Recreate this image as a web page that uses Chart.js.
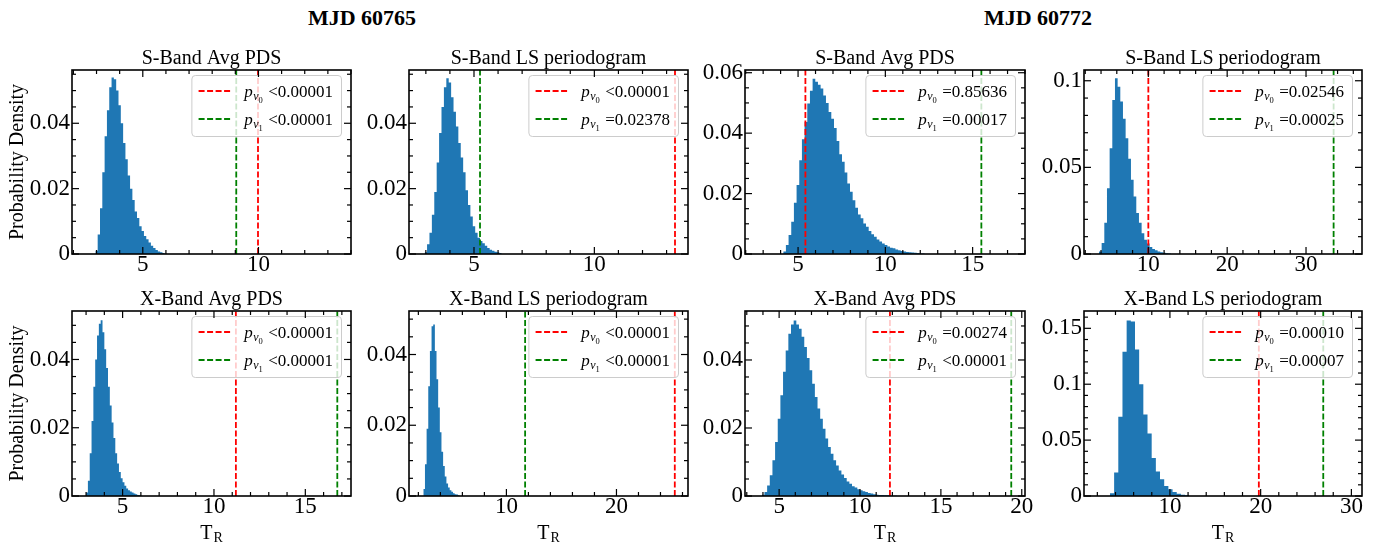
<!DOCTYPE html>
<html>
<head>
<meta charset="utf-8">
<title>T_R distributions</title>
<script src="https://cdn.jsdelivr.net/npm/chart.js@4.4.1/dist/chart.umd.min.js"></script>
<style>
  body { margin: 0; background: #fff; width: 1385px; height: 547px; position: relative; overflow: hidden;
         font-family: "Liberation Serif", "DejaVu Serif", serif; }
  canvas { position: absolute; }
  .suptitle { position: absolute; top: 7px; font-weight: bold; font-size: 22px; line-height: 22px;
              transform: translateX(-50%); white-space: nowrap; color: #000; }
</style>
</head>
<body>
<div class="suptitle" style="left:362px">MJD 60765</div>
<div class="suptitle" style="left:1038px">MJD 60772</div>
<script>
const FONT = '"Liberation Serif", "DejaVu Serif", serif';
Chart.defaults.font.family = FONT;
Chart.defaults.color = '#000';

// panels, row-major: S-band on top, X-band below; columns MJD 60765 (avg, LS), MJD 60772 (avg, LS)
const panelTitles = ['S-Band Avg PDS', 'S-Band LS periodogram', 'S-Band Avg PDS', 'S-Band LS periodogram',
  'X-Band Avg PDS', 'X-Band LS periodogram', 'X-Band Avg PDS', 'X-Band LS periodogram'];

// histogram heights (probability per bin)
const sAvg60765 = [0.001, 0.006, 0.014, 0.025, 0.036, 0.044, 0.051, 0.054, 0.0535, 0.050, 0.0455, 0.040,
  0.034, 0.029, 0.024, 0.020, 0.0165, 0.013, 0.011, 0.0085, 0.007, 0.0055, 0.0045, 0.0035, 0.0025,
  0.0018, 0.0012, 0.0008, 0.0005, 0.0003];
const sLs60765 = [0.0005, 0.003, 0.0065, 0.012, 0.019, 0.028, 0.037, 0.045, 0.051, 0.0538, 0.0525, 0.048,
  0.0435, 0.039, 0.034, 0.0295, 0.025, 0.0195, 0.015, 0.0115, 0.0085, 0.0065, 0.005, 0.004, 0.0033,
  0.0025, 0.0018, 0.0013, 0.001, 0.0007, 0.0005, 0.0003];
const sAvg60772 = [0.0008, 0.003, 0.0063, 0.0107, 0.017, 0.0228, 0.031, 0.038, 0.0437, 0.0498, 0.054, 0.058,
  0.057, 0.056, 0.0548, 0.0525, 0.050, 0.047, 0.0448, 0.0417, 0.0374, 0.033, 0.0305, 0.027, 0.0233,
  0.0206, 0.0178, 0.0153, 0.0131, 0.0118, 0.0101, 0.009, 0.0076, 0.0065, 0.0057, 0.0048, 0.0041,
  0.0035, 0.003, 0.0025, 0.0021, 0.0019, 0.0015, 0.0012, 0.001, 0.0008, 0.0007, 0.0006, 0.0005,
  0.0004, 0.0003, 0.0002, 0.0002];
const sLs60772 = [0.0015, 0.0063, 0.018, 0.038, 0.061, 0.0889, 0.1014, 0.0966, 0.088, 0.078, 0.0668, 0.055,
  0.0428, 0.0332, 0.0236, 0.018, 0.012, 0.0082, 0.006, 0.004, 0.0029, 0.0021, 0.0015, 0.001, 0.0007,
  0.0005, 0.0003];
const xAvg60765 = [0.001, 0.0045, 0.0125, 0.022, 0.032, 0.040, 0.047, 0.0505, 0.0515, 0.048, 0.043, 0.0375,
  0.032, 0.0265, 0.0215, 0.017, 0.0125, 0.0095, 0.007, 0.0052, 0.004, 0.003, 0.0022, 0.0017, 0.0013,
  0.001, 0.0007, 0.0005, 0.0003, 0.0002];
const xLs60765 = [0.002, 0.009, 0.019, 0.031, 0.041, 0.048, 0.0485, 0.041, 0.033, 0.025, 0.018, 0.0125,
  0.0085, 0.0055, 0.0035, 0.0024, 0.0016, 0.0012, 0.0008, 0.0005, 0.0004, 0.0002];
const xAvg60772 = [0.0004, 0.0012, 0.0031, 0.0061, 0.0105, 0.0159, 0.0227, 0.0296, 0.0365, 0.0428, 0.0477,
  0.0504, 0.0516, 0.0504, 0.0492, 0.0468, 0.0438, 0.0406, 0.037, 0.033, 0.0291, 0.0257, 0.0227, 0.0198,
  0.0169, 0.0144, 0.0124, 0.0105, 0.009, 0.0075, 0.0063, 0.0053, 0.0043, 0.0036, 0.0029, 0.0025, 0.002,
  0.0017, 0.0014, 0.0012, 0.0009, 0.0007, 0.0005, 0.0004, 0.0003, 0.0003, 0.0002, 0.0002, 0.0001,
  0.0001, 0.0001];
const xLs60772 = [0.0024, 0.021, 0.071, 0.129, 0.157, 0.156, 0.131, 0.1, 0.073, 0.056, 0.034, 0.022, 0.015,
  0.009, 0.006, 0.0036, 0.002, 0.0012, 0.0007];

const histograms = [sAvg60765, sLs60765, sAvg60772, sLs60772, xAvg60765, xLs60765, xAvg60772, xLs60772];
const binStart = [2.95, 2.95, 4.15, 3.74, 3.0, 2.45, 3.93, 3.39];
const binWidth = [0.1, 0.1, 0.153, 0.338, 0.1, 0.15, 0.164, 0.46];

// observed T_R for the two frequencies and their p-values
const nu0Lines = [9.98, 13.35, 5.42, 10.0, 11.2, 25.3, 11.85, 19.8];
const nu1Lines = [9.04, 5.25, 15.5, 33.5, 16.75, 11.7, 19.35, 26.9];
const nu0Labels = ['<0.00001', '<0.00001', '=0.85636', '=0.02546', '<0.00001', '<0.00001', '=0.00274', '=0.00010'];
const nu1Labels = ['<0.00001', '=0.02378', '=0.00017', '=0.00025', '<0.00001', '<0.00001', '<0.00001', '=0.00007'];

// axes
const xMin = [1.94, 2.30, 1.96, 1.84, 2.23, 1.15, 2.89, 0.53];
const xMax = [14.0, 13.89, 18.0, 37.1, 17.5, 26.5, 20.2, 31.17];
const yMax = [0.0563, 0.0563, 0.0609, 0.1062, 0.0542, 0.0523, 0.0544, 0.1655];
const xTicks = [[5, 10], [5, 10], [5, 10, 15], [10, 20, 30], [5, 10, 15], [10, 20], [5, 10, 15, 20], [10, 20, 30]];
const yTicks = [[0, 0.02, 0.04], [0, 0.02, 0.04], [0, 0.02, 0.04, 0.06], [0, 0.05, 0.1],
  [0, 0.02, 0.04], [0, 0.02, 0.04], [0, 0.02, 0.04], [0, 0.05, 0.1, 0.15]];
const xMinorStep = [1, 1, 1, 2, 1, 2, 1, 2];
const yMinorStep = [0.005, 0.005, 0.005, 0.01, 0.005, 0.005, 0.005, 0.01];

// page layout (pixels)
const plotLefts = [72, 409, 745, 1084];
const plotWidths = [279, 279, 280, 278];
const rowTops = [70, 311];
const rowHeights = [184, 185];
const Y_AXIS_W = 72;
const PAD_TOP = 40;
const PAD_RIGHT = 16;
const LEG_FS = 17;

function line(ctx, x1, y1, x2, y2) {
  ctx.beginPath();
  ctx.moveTo(x1, y1);
  ctx.lineTo(x2, y2);
  ctx.stroke();
}

// p_{nu_k} label with nested subscripts, followed by the value text
function pLabel(ctx, x, y, sub, value, draw) {
  ctx.font = `italic ${LEG_FS}px ${FONT}`;
  const wp = ctx.measureText('p').width;
  if (draw) ctx.fillText('p', x, y);
  ctx.font = `italic 12px ${FONT}`;
  const wn = ctx.measureText('ν').width;
  if (draw) ctx.fillText('ν', x + wp + 0.5, y + 3);
  ctx.font = `8.5px ${FONT}`;
  const ws = ctx.measureText(sub).width;
  if (draw) ctx.fillText(sub, x + wp + 0.5 + wn, y + 5.5);
  ctx.font = `${LEG_FS}px ${FONT}`;
  const vx = x + wp + 0.5 + wn + ws + 5.5;
  if (draw) ctx.fillText(value, vx, y);
  return vx - x + ctx.measureText(value).width;
}

const panelDecor = {
  id: 'panelDecor',
  afterDraw(chart, args, opts) {
    const i = opts.index;
    const { ctx, chartArea: a, scales: { x, y } } = chart;
    ctx.save();

    // legend (upper right)
    const entries = [['red', '0', nu0Labels[i]], ['green', '1', nu1Labels[i]]];
    const textW = Math.max(...entries.map(e => pLabel(ctx, 0, 0, e[1], e[2], false)));
    const boxW = 6.7 + 33 + 12.6 + textW + 8.4;
    const boxR = a.right - 9.5;
    const boxL = boxR - boxW;
    const boxT = a.top + 5.5;
    ctx.beginPath();
    ctx.roundRect(boxL, boxT, boxW, 61, 3.5);
    ctx.fillStyle = 'rgba(255,255,255,0.8)';
    ctx.fill();
    ctx.strokeStyle = '#cccccc';
    ctx.lineWidth = 1;
    ctx.stroke();
    entries.forEach((e, k) => {
      const ry = a.top + 21 + k * 28;
      ctx.strokeStyle = e[0];
      ctx.lineWidth = 1.8;
      ctx.setLineDash([6, 2.5]);
      line(ctx, boxL + 6.7, ry, boxL + 39.7, ry);
      ctx.setLineDash([]);
      ctx.fillStyle = '#000';
      ctx.textAlign = 'left';
      ctx.textBaseline = 'alphabetic';
      pLabel(ctx, boxL + 6.7 + 33 + 12.6, ry + 6, e[1], e[2], true);
    });

    // inward ticks on all four sides
    ctx.strokeStyle = '#000';
    ctx.lineWidth = 1.2;
    const isMajor = (v, list, step) => list.some(m => Math.abs(m - v) < step / 10);
    const xs = xMinorStep[i];
    for (let k = Math.ceil(xMin[i] / xs - 1e-9); k * xs <= xMax[i] + 1e-9; k++) {
      const v = k * xs;
      const len = isMajor(v, xTicks[i], xs) ? 7 : 4;
      const px = x.getPixelForValue(v);
      line(ctx, px, a.bottom, px, a.bottom - len);
      line(ctx, px, a.top, px, a.top + len);
    }
    const ys = yMinorStep[i];
    for (let k = 0; k * ys <= yMax[i] + 1e-9; k++) {
      const v = k * ys;
      const len = isMajor(v, yTicks[i], ys) ? 7 : 4;
      const py = y.getPixelForValue(v);
      line(ctx, a.left, py, a.left + len, py);
      line(ctx, a.right, py, a.right - len, py);
    }

    // frame
    ctx.lineWidth = 1.6;
    ctx.strokeRect(a.left, a.top, a.right - a.left, a.bottom - a.top);

    // title
    const cx = (a.left + a.right) / 2;
    ctx.fillStyle = '#000';
    ctx.font = `20px ${FONT}`;
    ctx.textAlign = 'center';
    ctx.textBaseline = 'alphabetic';
    ctx.fillText(panelTitles[i], cx, a.top - 6.5);

    // y label on the first column
    if (i % 4 === 0) {
      ctx.save();
      ctx.translate(17.5, (a.top + a.bottom) / 2);
      ctx.rotate(-Math.PI / 2);
      ctx.textBaseline = 'middle';
      ctx.fillText('Probability Density', 0, 0);
      ctx.restore();
    }

    // x label on the bottom row: T_R
    if (i >= 4) {
      ctx.font = `20px ${FONT}`;
      const wt = ctx.measureText('T').width;
      ctx.font = `14px ${FONT}`;
      const wr = ctx.measureText('R').width;
      const x0 = cx - (wt + wr + 1) / 2;
      ctx.textAlign = 'left';
      ctx.font = `20px ${FONT}`;
      ctx.fillText('T', x0, a.bottom + 43);
      ctx.font = `14px ${FONT}`;
      ctx.fillText('R', x0 + wt + 1, a.bottom + 45.5);
    }
    ctx.restore();
  }
};

function makePanel(i) {
  const col = i % 4;
  const row = Math.floor(i / 4);
  const xAxisH = row === 0 ? 26 : 51;
  const w = Y_AXIS_W + plotWidths[col] + PAD_RIGHT;
  const h = PAD_TOP + rowHeights[row] + xAxisH;
  const canvas = document.createElement('canvas');
  canvas.width = w;
  canvas.height = h;
  canvas.style.width = w + 'px';
  canvas.style.height = h + 'px';
  canvas.style.left = (plotLefts[col] - Y_AXIS_W) + 'px';
  canvas.style.top = (rowTops[row] - PAD_TOP) + 'px';
  document.body.appendChild(canvas);

  const heights = histograms[i];
  const steps = heights.map((v, k) => ({ x: binStart[i] + k * binWidth[i], y: v }));
  steps.push({ x: binStart[i] + heights.length * binWidth[i], y: 0 });

  const vline = (pos, color) => ({
    data: [{ x: pos, y: 0 }, { x: pos, y: yMax[i] }],
    borderColor: color,
    borderWidth: 1.8,
    borderDash: [6, 2.5],
    pointRadius: 0,
    fill: false,
    order: 1,
  });

  const tickFont = { family: FONT, size: 23, lineHeight: 1 };
  const noGrid = { display: false, drawTicks: false, tickLength: 0 };

  new Chart(canvas, {
    type: 'line',
    data: {
      datasets: [
        vline(nu0Lines[i], 'red'),
        vline(nu1Lines[i], 'green'),
        {
          data: steps,
          stepped: true,
          fill: 'origin',
          backgroundColor: '#1f77b4',
          borderColor: 'rgba(0,0,0,0)',
          borderWidth: 0,
          pointRadius: 0,
          order: 2,
        },
      ],
    },
    options: {
      responsive: false,
      animation: false,
      devicePixelRatio: 1,
      layout: { padding: { top: PAD_TOP, right: PAD_RIGHT, left: 0, bottom: 0 } },
      plugins: {
        legend: { display: false },
        tooltip: { enabled: false },
        panelDecor: { index: i },
      },
      scales: {
        x: {
          type: 'linear',
          min: xMin[i],
          max: xMax[i],
          grid: noGrid,
          border: { display: false },
          afterBuildTicks: s => { s.ticks = xTicks[i].map(v => ({ value: v })); },
          afterFit: s => { s.height = xAxisH; },
          ticks: { font: tickFont, color: '#000', padding: -1, maxRotation: 0, autoSkip: false,
                   callback: v => String(v) },
        },
        y: {
          type: 'linear',
          min: 0,
          max: yMax[i],
          grid: noGrid,
          border: { display: false },
          afterBuildTicks: s => { s.ticks = yTicks[i].map(v => ({ value: v })); },
          afterFit: s => { s.width = Y_AXIS_W; },
          ticks: { font: tickFont, color: '#000', padding: 2, autoSkip: false,
                   callback: v => String(v) },
        },
      },
    },
    plugins: [panelDecor],
  });
}

for (let i = 0; i < 8; i++) makePanel(i);
</script>
</body>
</html>
